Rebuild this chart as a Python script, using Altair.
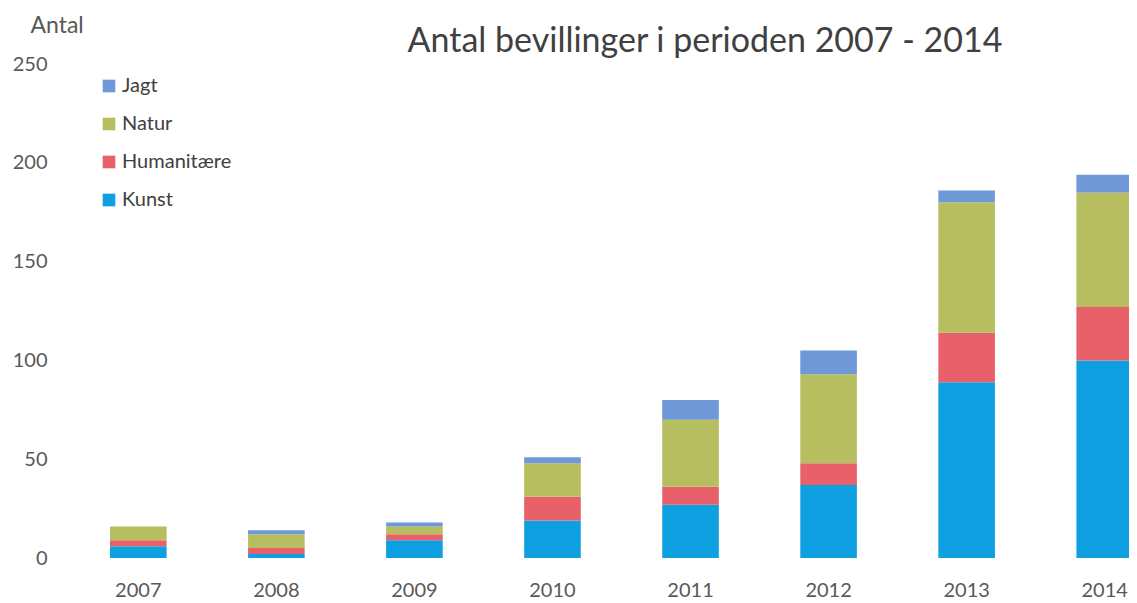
import altair as alt
import pandas as pd

years = ["2007", "2008", "2009", "2010", "2011", "2012", "2013", "2014"]
kunst = [6, 2, 9, 19, 27, 37, 89, 100]
humanitaere = [3, 3, 3, 12, 9, 11, 25, 27]
natur = [7, 7, 4, 17, 34, 45, 66, 58]
jagt = [0, 2, 2, 3, 10, 12, 6, 9]

series_names = ["Kunst", "Humanitære", "Natur", "Jagt"]
series_values = [kunst, humanitaere, natur, jagt]
legend_order = ["Jagt", "Natur", "Humanitære", "Kunst"]
colors = ["#6E98D6", "#B6BE60", "#E8606A", "#0EA0E0"]
y_ticks = [0, 50, 100, 150, 200, 250]
title_text = "Antal bevillinger i perioden 2007 - 2014"

rows = []
for rank, (name, vals) in enumerate(zip(series_names, series_values)):
    for yr, v in zip(years, vals):
        rows.append({"År": yr, "Type": name, "Antal": v, "rank": rank})
df = pd.DataFrame(rows)

FONT = "Lato"
GRAY = "#595959"

bars = alt.Chart(df).mark_bar().encode(
    x=alt.X(
        "År:N",
        sort=years,
        scale=alt.Scale(range=[50, 1073], paddingInner=0.59, paddingOuter=0),
        axis=alt.Axis(
            title=None, domain=False, ticks=False, tickSize=0, labelPadding=22,
            labelFontSize=20, labelFont=FONT, labelColor=GRAY, labelAngle=0,
        ),
    ),
    y=alt.Y(
        "Antal:Q",
        stack="zero",
        scale=alt.Scale(domain=[0, 250], nice=False),
        axis=alt.Axis(
            values=y_ticks, grid=False, domain=False, ticks=False, tickSize=0,
            labelPadding=13, labelFontSize=20, labelFont=FONT, labelColor=GRAY,
            title="Antal", titleAngle=0, titleX=-30, titleY=-32,
            titleAlign="left", titleBaseline="alphabetic",
            titleFont=FONT, titleFontSize=23, titleFontWeight="normal",
            titleColor=GRAY,
        ),
    ),
    color=alt.Color(
        "Type:N",
        scale=alt.Scale(domain=legend_order, range=colors),
        legend=alt.Legend(
            title=None, orient="none", legendX=39, legendY=12,
            symbolType="square", symbolSize=160, symbolStrokeWidth=0,
            labelFont=FONT, labelFontSize=20, labelColor="#404040",
            labelOffset=3, rowPadding=18, padding=0,
        ),
    ),
    order=alt.Order("rank:Q", sort="ascending"),
)

title = alt.Chart(pd.DataFrame({"t": [title_text]})).mark_text(
    font=FONT, fontSize=34, color="#404040", align="center", baseline="alphabetic"
).encode(
    x=alt.value(645), y=alt.value(-12), text="t:N"
)

chart = alt.layer(bars, title).properties(
    width=1069, height=494,
    background="white",
    autosize=alt.AutoSizeParams(type="none"),
    padding={"left": 52, "top": 56, "right": 0, "bottom": 42},
).configure_view(strokeWidth=0, stroke=None)

chart.save("out.html", embed_options={"renderer": "svg", "actions": False})
